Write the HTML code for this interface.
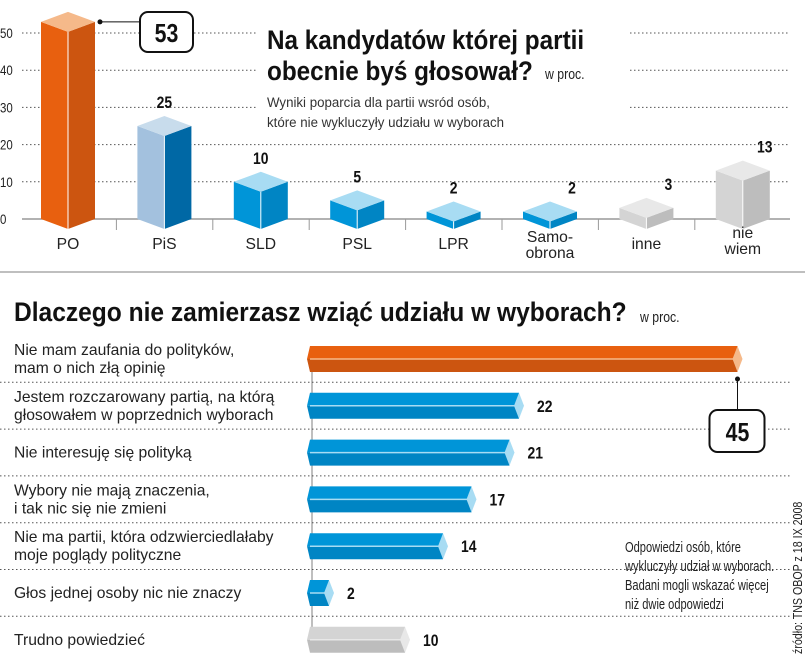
<!DOCTYPE html>
<html><head><meta charset="utf-8">
<style>
body{margin:0;background:#fff;}
svg{display:block;font-family:"Liberation Sans",sans-serif;}
</style></head>
<body>
<svg id="c" width="805" height="656" viewBox="0 0 805 656" xmlns="http://www.w3.org/2000/svg">
<g id="topg"></g>
<g id="botg"></g>
<text class="st" x="267" y="49" font-size="27" font-weight="bold" fill="#111">Na kandydatów której partii</text>
<text class="st" x="267" y="80" font-size="27" font-weight="bold" fill="#111">obecnie byś głosował?</text>
<text x="545" y="79" font-size="15" fill="#222">w proc.</text>
<text class="s97" x="267" y="107" font-size="14" fill="#333">Wyniki poparcia dla partii wsród osób,</text>
<text class="s97" x="267" y="127" font-size="14" fill="#333">które nie wykluczyły udziału w wyborach</text>
<line x1="0" y1="272" x2="805" y2="272" stroke="#aaa" stroke-width="1.5"/>
<text class="sb" x="14" y="321" font-size="27" font-weight="bold" fill="#111">Dlaczego nie zamierzasz wziąć udziału w wyborach?</text>
<text x="640" y="322" font-size="15" fill="#222">w proc.</text>
<g font-size="15" fill="#222">
<text class="sn" x="625" y="552">Odpowiedzi osób, które</text>
<text class="sn" x="625" y="571">wykluczyły udział w wyborach.</text>
<text class="sn" x="625" y="590">Badani mogli wskazać więcej</text>
<text class="sn" x="625" y="609">niż dwie odpowiedzi</text>
</g>
<g transform="translate(802,654) rotate(-90)"><text x="0" y="0" font-size="13" fill="#222">źródło: TNS OBOP z 18 IX 2008</text></g>
</svg>
<script>
const parties = ["PO","PiS","SLD","PSL","LPR","Samo-|obrona","inne","nie|wiem"];
const partyValues = [53,25,10,5,2,2,3,13];
const yTicks = [0,10,20,30,40,50];
const reasons = ["Nie mam zaufania do polityków,|mam o nich złą opinię","Jestem rozczarowany partią, na którą|głosowałem w poprzednich wyborach","Nie interesuję się polityką","Wybory nie mają znaczenia,|i tak nic się nie zmieni","Nie ma partii, która odzwierciedlałaby|moje poglądy polityczne","Głos jednej osoby nic nie znaczy","Trudno powiedzieć"];
const reasonValues = [45,22,21,17,14,2,10];

const NS="http://www.w3.org/2000/svg";
function mk(p,tag,a){const e=document.createElementNS(NS,tag);for(const k in a)e.setAttribute(k,a[k]);p.appendChild(e);return e;}
const tg=document.getElementById('topg'), bg=document.getElementById('botg');
const y0=219, yS=3.72;
const Y=v=>y0-v*yS;
const X=i=>68+i*96.4;
yTicks.forEach(t=>{
  const l=mk(tg,'line',{x1:22,x2:790,y1:Y(t),y2:Y(t),stroke:t?'#555':'#999','stroke-width':t?1:1.5,'stroke-dasharray':t?'1.5 2.5':'none'});
  
  
  const tx=mk(tg,'text',{x:0,y:Y(t)+5,'font-size':14,fill:'#222'});tx.textContent=t;
  
  
});
mk(tg,'rect',{x:258,y:28,width:372,height:100,fill:'#fff'});
const pal=[["#e8600f","#cc5510","#f5b98a"],["#a3c1de","#0068a5","#c8dcec"]];
const blue=["#0095d8","#0085c4","#a8dcf3"], gray=["#d4d4d4","#bdbdbd","#e8e8e8"];
partyValues.forEach((v,i)=>{
  const c=i<2?pal[i]:(i<6?blue:gray);
  const cx=X(i), w=27, yt=Y(v);
  const g=mk(tg,'g',{});
  
  
  mk(g,'polygon',{points:`${cx-w},${yt} ${cx},${yt+10} ${cx},${y0+10} ${cx-w},${y0}`,fill:c[0]});
  mk(g,'polygon',{points:`${cx},${yt+10} ${cx+w},${yt} ${cx+w},${y0} ${cx},${y0+10}`,fill:c[1]});
  mk(g,'polygon',{points:`${cx-w},${yt} ${cx},${yt-10} ${cx+w},${yt} ${cx},${yt+10}`,fill:c[2]});
  mk(g,'line',{x1:cx,x2:cx,y1:yt+10,y2:y0+10,stroke:'#fff','stroke-width':1});
  if(i>0){
    const lx = i>=5? cx+22 : cx; const lb=mk(tg,'text',{x:lx,y:yt-18,'font-size':17,'font-weight':'bold','text-anchor':'middle',fill:'#111'});
    lb.textContent=v;
    
    
  }
  const parts=parties[i].split('|');
  parts.forEach((p,k)=>{const t=mk(tg,'text',{class:'s1',x:cx,y:(parts.length>1?(i==7?238:242):249)+k*16,'font-size':16,'text-anchor':'middle',fill:'#222'});t.textContent=p;
    
    });
  if(i>0){mk(tg,'line',{x1:cx-48,x2:cx-48,y1:y0,y2:y0+11,stroke:'#999'});}
});
mk(tg,'line',{x1:100,y1:Y(partyValues[0]),x2:140,y2:Y(partyValues[0]),stroke:'#111'});
mk(tg,'circle',{cx:100,cy:Y(partyValues[0]),r:2.5,fill:'#111'});
const b1=mk(tg,'rect',{x:140,y:12,width:53,height:40,rx:8,fill:'#fff',stroke:'#111','stroke-width':2});


const t53=mk(tg,'text',{x:166.5,y:42,'font-size':26,'font-weight':'bold','text-anchor':'middle',fill:'#111'});t53.textContent=partyValues[0];

const bx=310, bS=9.5, rowY=i=>359+i*46.8;
mk(bg,'line',{x1:312,x2:312,y1:372,y2:652,stroke:'#aaa','stroke-width':1.5});
reasons.forEach((r,i)=>{
  const cy=rowY(i);
  if(i>0){const l=mk(bg,'line',{x1:0,x2:790,y1:cy-23.5,y2:cy-23.5,stroke:'#555','stroke-dasharray':'1.5 2.5'});
    
    }
  const v=reasonValues[i], xe=bx+v*bS, h=13;
  const c=i==0?pal[0]:(i==6?gray:blue);
  const g=mk(bg,'g',{});
  
  
  mk(g,'polygon',{points:`${bx-3},${cy} ${bx},${cy-h} ${xe},${cy-h} ${xe},${cy}`,fill:c[0]});
  mk(g,'polygon',{points:`${bx-3},${cy} ${xe},${cy} ${xe},${cy+h} ${bx},${cy+h}`,fill:c[1]});
  mk(g,'polygon',{points:`${xe},${cy-h} ${xe+5},${cy} ${xe},${cy+h} ${xe-5},${cy}`,fill:c[2]});
  mk(g,'line',{x1:bx,x2:xe-4,y1:cy,y2:cy,stroke:c[2],'stroke-width':1.5});
  const lines=r.split('|');
  lines.forEach((s,k)=>{const t=mk(bg,'text',{class:'s1',x:14,y:cy+(lines.length>1?-4:5)+k*18,'font-size':16,fill:'#222'});t.textContent=s;
    
    });
  if(i>0){const t=mk(bg,'text',{x:xe+18,y:cy+6,'font-size':17,'font-weight':'bold',fill:'#111'});t.textContent=v;
    
    }
});
const xe0=bx+reasonValues[0]*bS;
mk(bg,'line',{x1:xe0,x2:xe0,y1:379,y2:410,stroke:'#111'});
mk(bg,'circle',{cx:xe0,cy:379,r:2.5,fill:'#111'});
mk(bg,'rect',{x:xe0-28,y:410,width:55,height:42,rx:8,fill:'#fff',stroke:'#111','stroke-width':2});
const t45=mk(bg,'text',{x:xe0,y:441,'font-size':26,'font-weight':'bold','text-anchor':'middle',fill:'#111'});t45.textContent=reasonValues[0];

document.querySelectorAll('svg text').forEach(t=>{
  const x=parseFloat(t.getAttribute('x'))||0;
  const cl=t.getAttribute('class')||'';
  const s=cl==='s1'?0.98:cl==='st'?0.9:cl==='sb'?0.91:cl==='s97'?0.95:cl==='sn'?0.74:0.82;
  t.setAttribute('transform',`translate(${x},0) scale(${s},1) translate(${-x},0)`);
});
</script>
</body></html>
